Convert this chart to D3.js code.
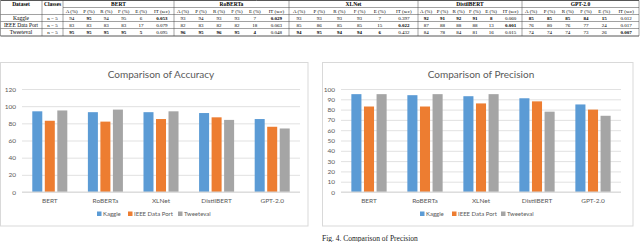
<!DOCTYPE html>
<html>
<head>
<meta charset="utf-8">
<script src="https://cdn.jsdelivr.net/npm/d3@7"></script>
<style>
    body { margin: 0; background: #fff; }
    svg { display: block; }
</style>
</head>
<body>
<div id="graphDiv"></div>
<script>

// ---- data ----
var models = ["BERT", "RoBERTa", "XLNet", "DistilBERT", "GPT-2.0"];
var datasets = ["Kaggle", "IEEE Data Port", "Tweeteval"];
var metricHeaders = ["A (%)", "P (%)", "R (%)", "F (%)", "E (%)", "IT (sec)"];

// accuracy per dataset, one value per model
var accKaggle = [94, 93, 93, 92, 85];
var accIEEE = [83, 82, 85, 87, 76];
var accTweet = [95, 96, 94, 84, 74];

// precision per dataset
var precKaggle = [95, 94, 93, 91, 85];
var precIEEE = [83, 83, 86, 88, 80];
var precTweet = [95, 95, 95, 78, 74];

// table rows: for each dataset, per model [A, P, R, F, E, IT]
var tableKaggle = [
    ["94", "95", "94", "95", "6", "0.053"],
    ["93", "94", "93", "93", "7", "0.029"],
    ["93", "93", "93", "93", "7", "0.397"],
    ["92", "91", "92", "91", "8", "0.060"],
    ["85", "85", "85", "84", "15", "0.012"]
];
var tableIEEE = [
    ["83", "83", "83", "83", "17", "0.079"],
    ["82", "83", "82", "82", "18", "0.063"],
    ["85", "86", "85", "85", "15", "0.022"],
    ["87", "88", "88", "88", "13", "0.001"],
    ["76", "80", "76", "77", "24", "0.017"]
];
var tableTweet = [
    ["95", "95", "95", "95", "5", "0.095"],
    ["96", "95", "96", "95", "4", "0.048"],
    ["94", "95", "94", "94", "6", "0.432"],
    ["84", "78", "84", "81", "16", "0.015"],
    ["74", "74", "74", "73", "26", "0.007"]
];
// which cells are bold (1 = bold)
var boldKaggle = [
    [0, 1, 0, 0, 0, 1], [0, 0, 0, 0, 0, 1], [0, 0, 0, 0, 0, 0], [1, 1, 1, 1, 1, 0], [1, 1, 1, 1, 1, 0]
];
var boldIEEE = [
    [0, 0, 0, 0, 0, 0], [0, 0, 0, 0, 0, 0], [0, 0, 0, 0, 0, 1], [0, 0, 0, 0, 0, 1], [0, 0, 0, 0, 0, 0]
];
var boldTweet = [
    [1, 1, 1, 1, 1, 0], [1, 1, 1, 1, 1, 0], [1, 1, 1, 1, 1, 0], [0, 0, 0, 0, 0, 0], [0, 0, 0, 0, 0, 1]
];

var colors = ["#5B9BD5", "#ED7D31", "#A5A5A5"];

var W = 640, H = 242;

var svg = d3.select("#graphDiv").append("svg")
    .attr("width", W)
    .attr("height", H);

svg.append("rect").attr("width", W).attr("height", H).attr("fill", "#fff");

renderTable();

renderChart({
    title: "Comparison of Accuracy",
    box: [0.5, 62.5, 308, 226],
    plot: [22, 300, 89, 192],
    max: 120, step: 20,
    series: [accKaggle, accIEEE, accTweet],
    legendX: [97, 128, 178]
});

renderChart({
    title: "Comparison of Precision",
    box: [322.5, 62.5, 633, 226],
    plot: [341, 621, 89, 192],
    max: 100, step: 10,
    series: [precKaggle, precIEEE, precTweet],
    legendX: [420, 452, 501]
});

//caption under the right chart
svg.append("text")
    .attr("x", 322)
    .attr("y", 240.5)
    .style("font-family", "Liberation Serif")
    .style("font-size", "7.5px")
    .attr("fill", "#222")
    .text("Fig. 4.   Comparison of Precision");


function renderChart(o) {

    var g = svg.append("g");

    //frame
    g.append("rect")
        .attr("x", o.box[0])
        .attr("y", o.box[1])
        .attr("width", o.box[2] - o.box[0])
        .attr("height", o.box[3] - o.box[1])
        .attr("fill", "#fff")
        .attr("stroke", "#D9D9D9")
        .attr("stroke-width", 1);

    g.append("text")
        .attr("x", (o.plot[0] + o.plot[1]) / 2)
        .attr("y", 78)
        .attr("text-anchor", "middle")
        .style("font-family", "Lato")
        .style("font-size", "10px")
        .attr("fill", "#595959")
        .text(o.title);

    var x0 = d3.scaleBand()
        .domain(models)
        .range([o.plot[0], o.plot[1]])
        .paddingInner(0.37)
        .paddingOuter(0.185);

    var x1 = d3.scaleBand()
        .domain(d3.range(datasets.length))
        .range([0, x0.bandwidth()])
        .paddingInner(0.2);

    var y = d3.scaleLinear()
        .domain([0, o.max])
        .range([o.plot[3], o.plot[2]]);

    //grid + y labels
    var yAxis = g.append("g")
        .attr("transform", "translate(" + o.plot[0] + ",0)")
        .call(d3.axisLeft(y)
            .tickValues(d3.range(0, o.max + 1, o.step))
            .tickSize(-(o.plot[1] - o.plot[0]))
            .tickPadding(6));
    yAxis.select(".domain").remove();
    yAxis.selectAll("line").attr("stroke", "#D9D9D9").attr("stroke-width", 0.8);
    yAxis.selectAll("text")
        .attr("fill", "#595959")
        .style("font-family", "Lato")
        .style("font-size", "6.5px");

    //bars
    var groups = g.selectAll(".grp")
        .data(models)
        .enter().append("g")
        .attr("class", "grp")
        .attr("transform", function (d) {
            return "translate(" + x0(d) + ",0)";
        });

    groups.selectAll("rect")
        .data(function (d, i) {
            return o.series.map(function (s, k) {
                return {k: k, v: s[i]};
            });
        })
        .enter().append("rect")
        .attr("x", function (d) { return x1(d.k); })
        .attr("y", function (d) { return y(d.v); })
        .attr("width", x1.bandwidth())
        .attr("height", function (d) { return y(0) - y(d.v); })
        .attr("fill", function (d) { return colors[d.k]; });

    //baseline
    g.append("line")
        .attr("x1", o.plot[0]).attr("x2", o.plot[1])
        .attr("y1", y(0)).attr("y2", y(0))
        .attr("stroke", "#D9D9D9").attr("stroke-width", 1);

    //category labels
    g.selectAll(".cat")
        .data(models)
        .enter().append("text")
        .attr("class", "cat")
        .attr("x", function (d) { return x0(d) + x0.bandwidth() / 2; })
        .attr("y", y(0) + 11)
        .attr("text-anchor", "middle")
        .style("font-family", "Lato")
        .style("font-size", "6.5px")
        .attr("fill", "#595959")
        .text(function (d) { return d; });

    //legend
    var leg = g.selectAll(".leg")
        .data(datasets)
        .enter().append("g")
        .attr("class", "leg")
        .attr("transform", function (d, i) {
            return "translate(" + o.legendX[i] + ",216)";
        });
    leg.append("rect")
        .attr("x", 0).attr("y", -4.5)
        .attr("width", 4.5).attr("height", 4.5)
        .attr("fill", function (d, i) { return colors[i]; });
    leg.append("text")
        .attr("x", 6)
        .attr("y", 0)
        .style("font-family", "Lato")
        .style("font-size", "6px")
        .attr("fill", "#595959")
        .text(function (d) { return d; });
}


function renderTable() {

    var t = svg.append("g").style("font-family", "Liberation Serif");

    var modelEdges = [63, 174, 289, 418, 522, 639];
    var rowLines = [0.5, 7.5, 14.5, 21.5, 28.5, 36];
    var rowsData = [tableKaggle, tableIEEE, tableTweet];
    var rowsBold = [boldKaggle, boldIEEE, boldTweet];

    //horizontal rules
    t.selectAll(".hr")
        .data(rowLines)
        .enter().append("line")
        .attr("x1", function (d, i) { return i == 1 ? 63 : 0.5; })
        .attr("x2", 639)
        .attr("y1", function (d) { return d; })
        .attr("y2", function (d) { return d; })
        .attr("stroke", "#444")
        .attr("stroke-width", function (d, i) { return (i == 0 || i == 5) ? 0.9 : 0.5; });

    //vertical rules
    var vLines = [0.5, 42, 63].concat(modelEdges.slice(1));
    t.selectAll(".vr")
        .data(vLines)
        .enter().append("line")
        .attr("x1", function (d) { return d; })
        .attr("x2", function (d) { return d; })
        .attr("y1", 0.5)
        .attr("y2", 36)
        .attr("stroke", "#444")
        .attr("stroke-width", 0.5);

    //column headers
    t.append("text").attr("x", 21).attr("y", 5.6).attr("text-anchor", "middle")
        .style("font-size", "5.5px").style("font-weight", "bold").text("Dataset");
    t.append("text").attr("x", 52.5).attr("y", 5.6).attr("text-anchor", "middle")
        .style("font-size", "5.5px").style("font-weight", "bold").text("Classes");

    models.forEach(function (m, mi) {
        var x0 = modelEdges[mi], x1 = modelEdges[mi + 1];
        var unit = (x1 - x0) / 6.4;
        var centers = d3.range(6).map(function (k) {
            return k < 5 ? x0 + unit * (k + 0.5) : x0 + unit * 5 + unit * 0.7;
        });

        t.append("text")
            .attr("x", (x0 + x1) / 2).attr("y", 5.6)
            .attr("text-anchor", "middle")
            .style("font-size", "5.5px").style("font-weight", "bold")
            .text(m);

        t.selectAll(".sub" + mi)
            .data(metricHeaders)
            .enter().append("text")
            .attr("x", function (d, k) { return centers[k]; })
            .attr("y", 12.6)
            .attr("text-anchor", "middle")
            .style("font-size", "5px")
            .text(function (d) { return d; });

        rowsData.forEach(function (rows, ri) {
            t.selectAll(".cell" + mi + "_" + ri)
                .data(rows[mi])
                .enter().append("text")
                .attr("x", function (d, k) { return centers[k]; })
                .attr("y", rowLines[ri + 2] + 5.2)
                .attr("text-anchor", "middle")
                .style("font-size", "5px")
                .style("font-weight", function (d, k) { return rowsBold[ri][mi][k] ? "bold" : "normal"; })
                .text(function (d) { return d; });
        });
    });

    //dataset names and class counts
    datasets.forEach(function (d, ri) {
        t.append("text").attr("x", 21).attr("y", rowLines[ri + 2] + 5.2)
            .attr("text-anchor", "middle").style("font-size", "5.5px").text(d);
        t.append("text").attr("x", 52.5).attr("y", rowLines[ri + 2] + 5.2)
            .attr("text-anchor", "middle").style("font-size", "5px").text("n = 5");
    });
}
</script>
</body>
</html>
